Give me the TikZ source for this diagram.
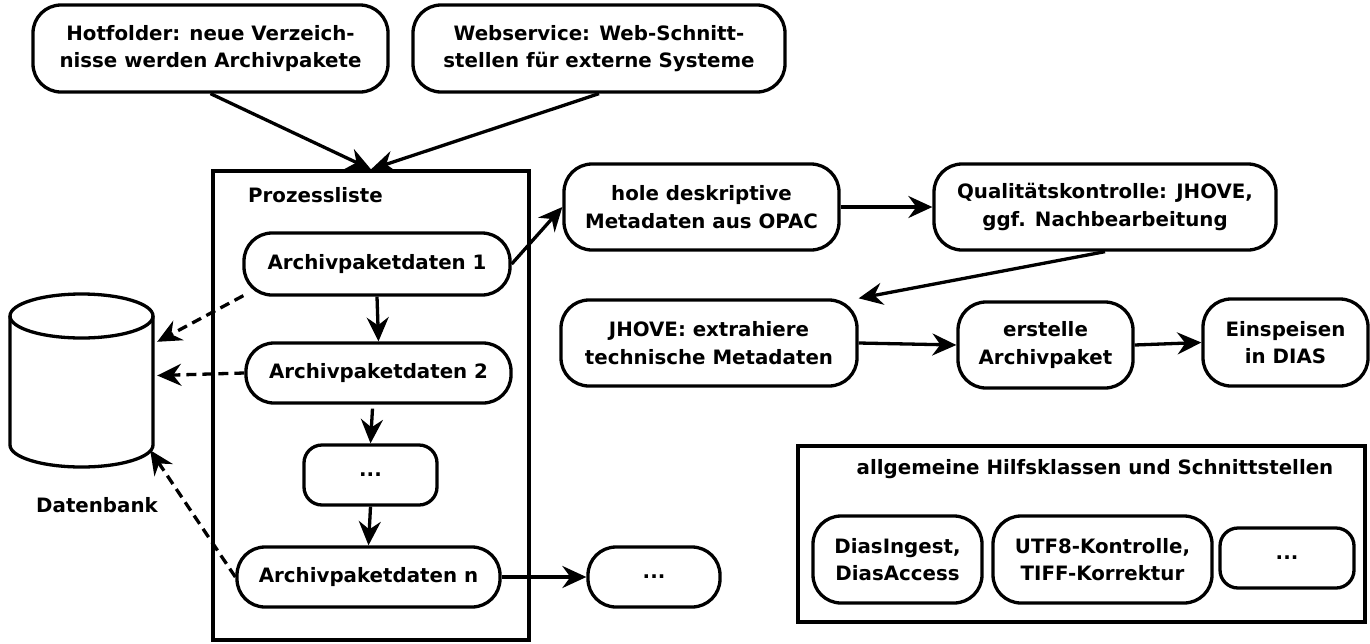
\documentclass[tikz,border=0pt]{standalone}
\usepackage{fontspec}
\setmainfont{DejaVu Sans}
\usetikzlibrary{arrows.meta,calc}
\tikzset{
  box/.style={draw, line width=3.3pt, rounded corners=28pt, align=center, inner sep=0pt},
  smallbox/.style={draw, line width=3.3pt, rounded corners=18pt, align=center, inner sep=0pt},
  frame/.style={draw, line width=3.3pt, inner sep=0pt},
  conn/.style={line width=3.3pt, -{Stealth[length=24pt,width=22pt,inset=8pt]}},
  dconn/.style={conn, dash pattern=on 10pt off 6pt},
  lbl/.style={inner sep=0pt}
}
\begin{document}
\begin{tikzpicture}[x=1pt,y=-1pt,font=\bfseries\fontsize{19.8}{27.5}\selectfont]
\useasboundingbox (0,0) rectangle (1370,643);
% top sources
\node[box, minimum width=355pt, minimum height=87pt] (hot) at (210.5,48.5) {Hotfolder: neue Verzeich-\\nisse werden Archivpakete};
\node[box, minimum width=372pt, minimum height=87pt] (web) at (599,48.5) {Webservice: Web-Schnitt-\\stellen für externe Systeme};
% Prozessliste
\node[frame, minimum width=316pt, minimum height=469pt] (proz) at (371,405.5) {};
\node[lbl] (prozl) at (315.5,195) {Prozessliste};
\node[box, minimum width=266pt, minimum height=62pt] (a1) at (377,264) {Archivpaketdaten 1};
\node[box, minimum width=265pt, minimum height=60pt] (a2) at (378.5,373) {Archivpaketdaten 2};
\node[smallbox, minimum width=133pt, minimum height=60pt] (d1) at (370.5,475) {...};
\node[box, minimum width=263pt, minimum height=60pt] (an) at (368.5,577) {Archivpaketdaten n};
\node[box, minimum width=132pt, minimum height=60pt] (d2) at (654,577) {...};
% database
\node[minimum width=143pt, minimum height=173pt, inner sep=0pt] (db) at (81.5,380.5) {};
\draw[line width=3.3pt] (10,316) -- (10,445) arc[start angle=180, end angle=360, x radius=71.5pt, y radius=22pt] -- (153,316);
\draw[line width=3.3pt] (81.5,316) ellipse[x radius=71.5pt, y radius=22pt];
\node[lbl] (dbl) at (97,505) {Datenbank};
% right process chain
\node[box, minimum width=275pt, minimum height=86pt] (hole) at (701.5,207) {hole deskriptive\\Metadaten aus OPAC};
\node[box, minimum width=342pt, minimum height=86pt] (qual) at (1105,207) {Qualitätskontrolle: JHOVE,\\ggf. Nachbearbeitung};
\node[box, minimum width=296pt, minimum height=86pt] (jhove) at (709,343) {JHOVE: extrahiere\\technische Metadaten};
\node[box, minimum width=175pt, minimum height=86pt] (erst) at (1045.5,345) {erstelle\\Archivpaket};
\node[box, minimum width=165pt, minimum height=87pt] (eins) at (1285.5,342.5) {Einspeisen\\in DIAS};
% helper classes
\node[frame, minimum width=567pt, minimum height=176pt] (allg) at (1081.5,534) {};
\node[lbl] (allgl) at (1095,469) {allgemeine Hilfsklassen und Schnittstellen};
\node[box, minimum width=169pt, minimum height=87pt] (dias) at (897.5,559.5) {DiasIngest,\\DiasAccess};
\node[box, minimum width=219pt, minimum height=87pt] (utf) at (1102.5,559.5) {UTF8-Kontrolle,\\TIFF-Korrektur};
\node[smallbox, minimum width=134pt, minimum height=60pt] (d3) at (1287,558) {...};
% connectors
\draw[conn] (hot.south) -- (proz.north);
\draw[conn] (web.south) -- (proz.north);
\draw[conn] (a1.south) -- (a2.north);
\draw[conn] ($(a2.south)+(-6,4)$) -- (d1.north);
\draw[conn] (d1.south) -- (an.north);
\draw[conn] (a1.east) -- (hole.west);
\draw[conn] (hole.east) -- (qual.west);
\draw[conn] (qual.south) -- (jhove.north east);
\draw[conn] (jhove.east) -- (erst.west);
\draw[conn] (erst.east) -- (eins.west);
\draw[conn] (an.east) -- (d2.west);
\draw[dconn] ($(a1.south west)+(1,-1)$) -- ($(db.north east)+(4,48)$);
\draw[dconn] (a2.west) -- ($(db.east)+(4,-5)$);
\draw[dconn] (an.west) -- ($(db.south east)+(-3,-17)$);
\end{tikzpicture}
\end{document}
